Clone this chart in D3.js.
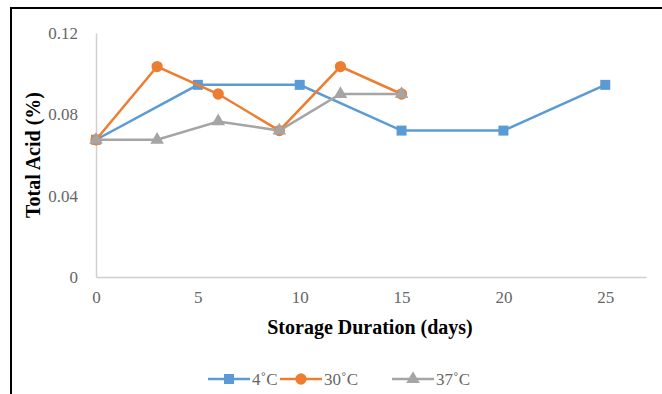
<!DOCTYPE html>
<html>
<head>
<meta charset="utf-8">
<script src="https://cdnjs.cloudflare.com/ajax/libs/d3/7.8.5/d3.min.js"></script>
<style>
  body { margin: 0; background: #fff; }
  svg { display: block; }
  text { font-family: "Liberation Serif", "Times New Roman", serif; }
</style>
</head>
<body>
<svg></svg>
<script>
// data
var days4 = [0, 5, 10, 15, 20, 25];
var acid4 = [0.0675, 0.0945, 0.0945, 0.072, 0.072, 0.0945];
var days30 = [0, 3, 6, 9, 12, 15];
var acid30 = [0.0675, 0.1035, 0.09, 0.072, 0.1035, 0.09];
var days37 = [0, 3, 6, 9, 12, 15];
var acid37 = [0.0675, 0.0675, 0.0765, 0.072, 0.09, 0.09];
var seriesNames = ["4˚C", "30˚C", "37˚C"];
var xTicks = [0, 5, 10, 15, 20, 25];
var yTicks = [0, 0.04, 0.08, 0.12];

var screen = {width: 662, height: 394};
var colors = ["#5b9bd5", "#ed7d31", "#a5a5a5"];
var shapes = [d3.symbolSquare, d3.symbolCircle, d3.symbolTriangle];
var serif = "'Liberation Serif', 'Times New Roman', serif";

var svg = d3.select("svg")
    .attr("width", screen.width)
    .attr("height", screen.height);

// frame around the chart
svg.append("rect")
    .attr("x", 11).attr("y", 8)
    .attr("width", 680).attr("height", 420)
    .attr("fill", "none").attr("stroke", "#000").attr("stroke-width", 2);

var xScale = d3.scaleLinear().domain([0, 27]).range([96, 646]);
var yScale = d3.scaleLinear().domain([0, 0.12]).range([277, 33]);

// axes
var xAxis = svg.append("g")
    .attr("transform", "translate(0," + yScale(0) + ")")
    .call(d3.axisBottom(xScale).tickValues(xTicks).tickSize(0).tickPadding(14));
var yAxis = svg.append("g")
    .attr("transform", "translate(" + xScale(0) + ",0)")
    .call(d3.axisLeft(yScale).tickValues(yTicks).tickSize(0).tickPadding(18)
        .tickFormat(function(d){ return d === 0 ? "0" : d3.format(".2f")(d); }));

[xAxis, yAxis].forEach(function(g){
    g.attr("font-family", serif).attr("font-size", 17);
    g.select(".domain").attr("stroke", "#d0d0d0").attr("stroke-width", 1.5);
    g.selectAll("text").attr("fill", "#666");
});

// axis titles
svg.append("text")
    .attr("x", 370).attr("y", 334)
    .attr("text-anchor", "middle")
    .attr("font-family", serif)
    .attr("font-size", 20).attr("font-weight", "bold")
    .text("Storage Duration (days)");
svg.append("text")
    .attr("transform", "translate(40,155) rotate(-90)")
    .attr("text-anchor", "middle")
    .attr("font-family", serif)
    .attr("font-size", 20).attr("font-weight", "bold")
    .text("Total Acid (%)");

var allSeries = [
    days4.map(function(d, i){ return {x: d, y: acid4[i]}; }),
    days30.map(function(d, i){ return {x: d, y: acid30[i]}; }),
    days37.map(function(d, i){ return {x: d, y: acid37[i]}; })
];

var line = d3.line()
    .x(function(p){ return xScale(p.x); })
    .y(function(p){ return yScale(p.y); });

var symbolSizes = [100, 100, 80];

allSeries.forEach(function(points, s){
    svg.append("path")
        .datum(points)
        .attr("d", line)
        .attr("fill", "none")
        .attr("stroke", colors[s])
        .attr("stroke-width", 2.5);
    svg.selectAll(".m" + s)
        .data(points)
        .enter()
        .append("path")
        .attr("class", "m" + s)
        .attr("transform", function(p){ return "translate(" + xScale(p.x) + "," + yScale(p.y) + ")"; })
        .attr("d", d3.symbol().type(shapes[s]).size(symbolSizes[s]))
        .attr("fill", colors[s]);
});

// legend
var legendX = [208, 280, 392];
seriesNames.forEach(function(name, s){
    var g = svg.append("g").attr("transform", "translate(" + legendX[s] + ",379)");
    g.append("line")
        .attr("x1", 0).attr("x2", 42).attr("y1", 0).attr("y2", 0)
        .attr("stroke", colors[s]).attr("stroke-width", 2.5);
    g.append("path")
        .attr("transform", "translate(21,0)")
        .attr("d", d3.symbol().type(shapes[s]).size(symbolSizes[s]))
        .attr("fill", colors[s]);
    g.append("text")
        .attr("x", 44).attr("y", 6)
        .attr("fill", "#666")
        .attr("font-family", serif)
        .attr("font-size", 17)
        .text(name);
});
</script>
</body>
</html>
